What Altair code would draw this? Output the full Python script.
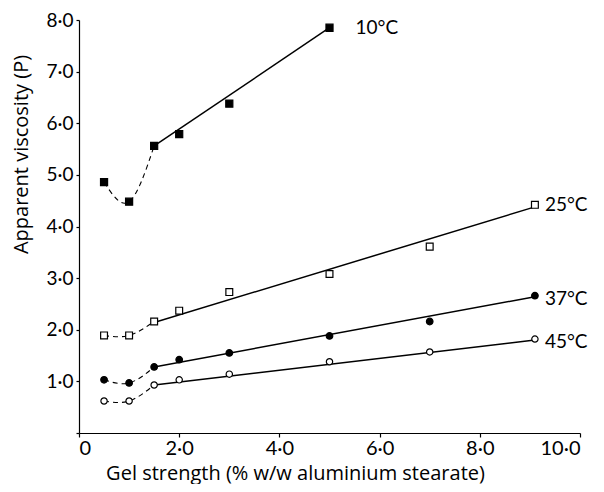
import altair as alt
import pandas as pd

# ---- data ----
series_names = ["10°C", "25°C", "37°C", "45°C"]
x_10 = [0.5, 1.0, 1.5, 2.0, 3.0, 5.0]
y_10 = [4.86, 4.48, 5.56, 5.79, 6.38, 7.85]
x_other = [0.5, 1.0, 1.5, 2.0, 3.0, 5.0, 7.0, 9.1]
y_25 = [1.89, 1.89, 2.16, 2.37, 2.73, 3.08, 3.61, 4.42]
y_37 = [1.03, 0.97, 1.28, 1.42, 1.55, 1.88, 2.16, 2.66]
y_45 = [0.62, 0.62, 0.93, 1.03, 1.14, 1.38, 1.57, 1.82]

# straight (fitted) lines: start at 1.5 %, end at last concentration
fit_x_start = [1.5, 1.5, 1.5, 1.5]
fit_x_end = [5.0, 9.1, 9.1, 9.1]
fit_y_start = [5.56, 2.14, 1.28, 0.93]
fit_y_end = [7.85, 4.38, 2.64, 1.80]

# ---- tables ----
rows = []
for name, xs, ys in [
    ("10°C", x_10, y_10),
    ("25°C", x_other, y_25),
    ("37°C", x_other, y_37),
    ("45°C", x_other, y_45),
]:
    for xv, yv in zip(xs, ys):
        rows.append({"x": xv, "y": yv, "series": name})
pts = pd.DataFrame(rows)

fit_rows = []
for i, name in enumerate(series_names):
    fit_rows.append({"x": fit_x_start[i], "y": fit_y_start[i], "series": name})
    fit_rows.append({"x": fit_x_end[i], "y": fit_y_end[i], "series": name})
fit = pd.DataFrame(fit_rows)

labels = pd.DataFrame({
    "x": [x_10[-1], x_other[-1], x_other[-1], x_other[-1]],
    "y": [y_10[-1], y_25[-1], y_37[-1], y_45[-1]],
    "series": series_names,
})

FONT = "Lato"
TFONT = "Open Sans"

lab_expr = "replace(format(datum.value, '.1f'), '.', '·')"
xscale = alt.Scale(domain=[0, 10], nice=False, zero=False)
yscale = alt.Scale(domain=[0, 8], nice=False, zero=False)

X = alt.X("x:Q", scale=xscale, axis=alt.Axis(
    title="Gel strength (% w/w aluminium stearate)",
    values=[0, 2, 4, 6, 8, 10],
    labelExpr="datum.value == 0 ? '0' : " + lab_expr,
    labelFontSize=20, labelPadding=1, tickSize=4,
    titleFontSize=20, titleFontWeight="normal", titleFont=TFONT,
    titleX=216, titleY=46, titleAlign="center", titleBaseline="alphabetic",
))
Y = alt.Y("y:Q", scale=yscale, axis=alt.Axis(
    title="Apparent viscosity (P)",
    values=[0, 1, 2, 3, 4, 5, 6, 7, 8],
    labelExpr="datum.value == 0 ? '' : " + lab_expr,
    labelFontSize=19, labelPadding=3, tickSize=3,
    titleFontSize=20, titleFontWeight="normal", titleFont=TFONT,
    titleX=-58, titleY=134, titleAngle=-90,
    titleAlign="center", titleBaseline="middle",
))

base_pts = alt.Chart(pts)

dashed = base_pts.transform_filter("datum.x <= 1.5").mark_line(
    interpolate="natural", strokeDash=[5, 4], strokeWidth=1.1, color="black"
).encode(x=X, y=Y, detail="series:N")

solid = alt.Chart(fit).mark_line(strokeWidth=1.5, color="black").encode(
    x=X, y=Y, detail="series:N"
)

markers = base_pts.mark_point(filled=False, strokeWidth=1.2, opacity=1).encode(
    x=X, y=Y,
    shape=alt.Shape("series:N", scale=alt.Scale(
        domain=series_names, range=["square", "square", "circle", "circle"]), legend=None),
    fill=alt.Fill("series:N", scale=alt.Scale(
        domain=series_names, range=["black", "white", "black", "white"]), legend=None),
    size=alt.Size("series:N", scale=alt.Scale(
        domain=series_names, range=[50, 40, 70, 70]), legend=None),
    stroke=alt.value("black"),
)

txt_base = alt.Chart(labels)
txt10 = txt_base.transform_filter("datum.series == '10°C'").mark_text(
    align="left", baseline="middle", dx=26, dy=0, fontSize=19, font=FONT, color="black"
).encode(x=X, y=Y, text="series:N")
txt25 = txt_base.transform_filter("datum.series == '25°C'").mark_text(
    align="left", baseline="middle", dx=10, dy=0, fontSize=19, font=FONT, color="black"
).encode(x=X, y=Y, text="series:N")
txt_low = txt_base.transform_filter("datum.series == '37°C' || datum.series == '45°C'").mark_text(
    align="left", baseline="middle", dx=10, dy=3, fontSize=19, font=FONT, color="black"
).encode(x=X, y=Y, text="series:N")

chart = alt.layer(dashed, solid, markers, txt10, txt25, txt_low).properties(
    width=501, height=413,
    autosize=alt.AutoSizeParams(type="none"),
    padding={"left": 71, "top": 12, "right": 16, "bottom": 51},
    background="white",
).configure_view(stroke=None).configure_axis(
    grid=False, domainColor="black", domainWidth=1.2, tickColor="black",
    tickWidth=1.2, labelColor="black", titleColor="black",
    labelFont=FONT,
)

chart.save("out.html", embed_options={"renderer": "svg", "actions": False})
